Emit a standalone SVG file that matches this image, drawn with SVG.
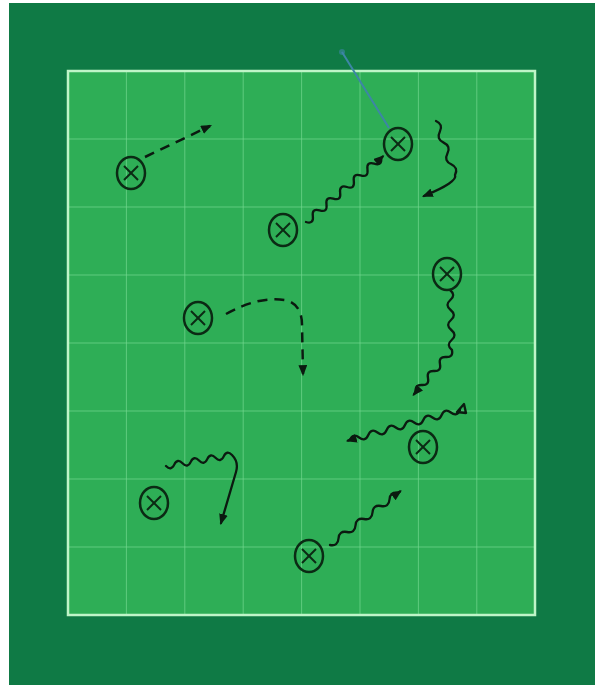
<svg xmlns="http://www.w3.org/2000/svg" width="602" height="685" viewBox="0 0 602 685">
<defs>
<marker id="ah" viewBox="0 0 10 8" refX="8" refY="4" markerWidth="11" markerHeight="9" markerUnits="userSpaceOnUse" orient="auto">
<path d="M0,0 L10,4 L0,8 Z" fill="#0b1a10"/>
</marker>
<style>
.grid{stroke:#74d890;stroke-width:1;opacity:0.7}
.pl ellipse{fill:none;stroke:#0b2a14;stroke-width:2.5}
.pl line{stroke:#0b2a14;stroke-width:2}
.run{fill:none;stroke:#0b1a10;stroke-width:2.3;stroke-linecap:round;stroke-linejoin:round}
.dash{fill:none;stroke:#0b1a10;stroke-width:2.5;stroke-dasharray:10 7}
</style>
</defs>
<rect width="602" height="685" fill="#ffffff"/>
<rect x="9" y="3" width="586" height="682" fill="#0f7a45"/>
<g id="field">
<rect x="68" y="71" width="467" height="544" fill="#2eae56"/>
<g>
<line class="grid" x1="126.4" y1="71" x2="126.4" y2="615"/>
<line class="grid" x1="184.8" y1="71" x2="184.8" y2="615"/>
<line class="grid" x1="243.2" y1="71" x2="243.2" y2="615"/>
<line class="grid" x1="301.6" y1="71" x2="301.6" y2="615"/>
<line class="grid" x1="360" y1="71" x2="360" y2="615"/>
<line class="grid" x1="418.4" y1="71" x2="418.4" y2="615"/>
<line class="grid" x1="476.8" y1="71" x2="476.8" y2="615"/>
<line class="grid" x1="68" y1="139" x2="535" y2="139"/>
<line class="grid" x1="68" y1="207" x2="535" y2="207"/>
<line class="grid" x1="68" y1="275" x2="535" y2="275"/>
<line class="grid" x1="68" y1="343" x2="535" y2="343"/>
<line class="grid" x1="68" y1="411" x2="535" y2="411"/>
<line class="grid" x1="68" y1="479" x2="535" y2="479"/>
<line class="grid" x1="68" y1="547" x2="535" y2="547"/>
</g>
<rect x="68" y="71" width="467" height="544" fill="none" stroke="#bff5c8" stroke-width="2.5"/>
</g>
<g id="connectors">
<line x1="342" y1="52" x2="389" y2="128" stroke="#3d86a6" stroke-width="2"/>
<circle cx="342" cy="52" r="3" fill="#3d86a6" opacity="0.6"/>
<path class="dash" d="M145,157 L210,126" marker-end="url(#ah)"/>
<path class="run" d="M306,222 q7.97,2.4 6.83,-5.83 t6.83,-5.83 t6.83,-5.83 t6.83,-5.83 t6.83,-5.83 t6.83,-5.83 t6.83,-5.83 t6.83,-5.83 t6.83,-5.83 t6.83,-5.83 t6.83,-5.83 l1.5,-1.3" marker-end="url(#ah)"/>
<path class="run" d="M436,121 q7.54,3.42 3.8,10.8 t3.8,10.8 t3.8,10.8 t3.8,10.8 t3.8,10.8 Q458,182 424,196" marker-end="url(#ah)"/>
<path class="run" d="M450,290 q6.17,5 0.33,10 t0.33,10 t0.33,10 t0.33,10 t0.33,10 t0.33,10 q1.56,7.4 -6,7 t-6,7 t-6,7 t-6,7 t-6,7 t-6,7 l-2,2.3" marker-end="url(#ah)"/>
<path class="run" d="M457,412 L464,404 L466,413 Z"/>
<path class="run" d="M460,410 q-3.0,7.04 -9.17,2.5 t-9.17,2.5 t-9.17,2.5 t-9.17,2.5 t-9.17,2.5 t-9.17,2.5 t-9.17,2.5 t-9.17,2.5 t-9.17,2.5 t-9.17,2.5 t-9.17,2.5 t-9.17,2.5 l-2,0.55" marker-end="url(#ah)"/>
<path class="dash" d="M226,314 Q258,296 285,300 Q302,304 302,325 L303,374" marker-end="url(#ah)"/>
<path class="run" d="M166,466 q5.1,5.2 8.25,-1.375 t8.25,-1.375 t8.25,-1.375 t8.25,-1.375 t8.25,-1.375 t8.25,-1.375 t8.25,-1.375 t8.25,-1.375 Q239,462 236,472 L221,523" marker-end="url(#ah)"/>
<path class="run" d="M330,545 q7.91,1.49 8.5,-6.5 t8.5,-6.5 t8.5,-6.5 t8.5,-6.5 t8.5,-6.5 t8.5,-6.5 t8.5,-6.5 t8.5,-6.5 l2,-1.5" marker-end="url(#ah)"/>
</g>
<g id="p1" class="pl"><ellipse cx="131" cy="173" rx="14" ry="16"/><line x1="124" y1="166" x2="138" y2="180"/><line x1="138" y1="166" x2="124" y2="180"/></g>
<g id="p2" class="pl"><ellipse cx="398" cy="144" rx="14" ry="16"/><line x1="391" y1="137" x2="405" y2="151"/><line x1="405" y1="137" x2="391" y2="151"/></g>
<g id="p3" class="pl"><ellipse cx="283" cy="230" rx="14" ry="16"/><line x1="276" y1="223" x2="290" y2="237"/><line x1="290" y1="223" x2="276" y2="237"/></g>
<g id="p4" class="pl"><ellipse cx="447" cy="274" rx="14" ry="16"/><line x1="440" y1="267" x2="454" y2="281"/><line x1="454" y1="267" x2="440" y2="281"/></g>
<g id="p5" class="pl"><ellipse cx="198" cy="318" rx="14" ry="16"/><line x1="191" y1="311" x2="205" y2="325"/><line x1="205" y1="311" x2="191" y2="325"/></g>
<g id="p6" class="pl"><ellipse cx="423" cy="447" rx="14" ry="16"/><line x1="416" y1="440" x2="430" y2="454"/><line x1="430" y1="440" x2="416" y2="454"/></g>
<g id="p7" class="pl"><ellipse cx="154" cy="503" rx="14" ry="16"/><line x1="147" y1="496" x2="161" y2="510"/><line x1="161" y1="496" x2="147" y2="510"/></g>
<g id="p8" class="pl"><ellipse cx="309" cy="556" rx="14" ry="16"/><line x1="302" y1="549" x2="316" y2="563"/><line x1="316" y1="549" x2="302" y2="563"/></g>
</svg>
